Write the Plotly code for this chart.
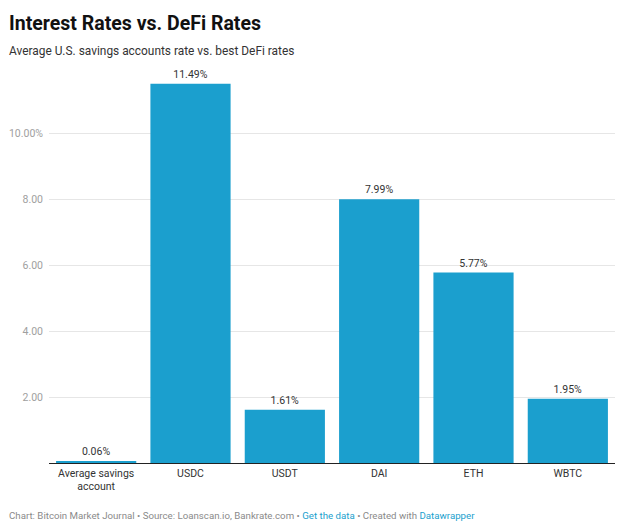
import plotly.graph_objects as go

categories = ["Average savings<br>account", "USDC", "USDT", "DAI", "ETH", "WBTC"]
values = [0.06, 11.49, 1.61, 7.99, 5.77, 1.95]
value_labels = ["0.06%", "11.49%", "1.61%", "7.99%", "5.77%", "1.95%"]
tick_vals = [2, 4, 6, 8, 10]
tick_text = ["2.00", "4.00", "6.00", "8.00", "10.00%"]

# screen geometry (page adds an 8px body margin)
OFF = 8
PL, PR, PT, PB = 49, 615, 67, 463
W, H = 624, 528

def px(x):
    return (x - PL) / (PR - PL)

def py(y):
    return (PB - y) / (PB - PT)

fig = go.Figure(go.Bar(
    x=categories, y=values, text=value_labels, textposition="outside",
    textfont=dict(family="Roboto", size=10.5, color="#333333"),
    marker=dict(color="#1b9fce", line=dict(width=0)),
    cliponaxis=False, hoverinfo="skip",
))

fig.update_layout(
    width=W - OFF, height=H - OFF,
    margin=dict(l=PL - OFF, r=W - PR, t=PT - OFF, b=H - PB),
    paper_bgcolor="white", plot_bgcolor="white",
    bargap=0.15,
    showlegend=False,
    font=dict(family="Roboto", color="#333333"),
    xaxis=dict(showgrid=False, showline=True, linecolor="#222222", linewidth=1,
               automargin=False,
               ticks="", tickfont=dict(size=10.5, color="#333333"), fixedrange=True),
    yaxis=dict(range=[0, 12], tickvals=tick_vals, ticktext=tick_text,
               automargin=False,
               showgrid=True, gridcolor="#e6e6e6", gridwidth=1, zeroline=False,
               showline=False, ticks="", ticklabelstandoff=5,
               tickfont=dict(size=10.5, color="#a0a0a0"), fixedrange=True),
    annotations=[
        dict(text="<b>Interest Rates vs. DeFi Rates</b>", x=px(7), y=py(23.5),
             xref="paper", yref="paper", showarrow=False, xanchor="left", yanchor="middle",
             font=dict(family="Roboto", size=19.5, color="#111111")),
        dict(text="Average U.S. savings accounts rate vs. best DeFi rates", x=px(7), y=py(51),
             xref="paper", yref="paper", showarrow=False, xanchor="left", yanchor="middle",
             font=dict(family="Roboto", size=11.9, color="#333333")),
        dict(text="Chart: Bitcoin Market Journal • Source: Loanscan.io, Bankrate.com • "
                  "<span style='color:#1b9fce'>Get the data</span> • Created with "
                  "<span style='color:#1b9fce'>Datawrapper</span>",
             x=px(7), y=py(515), xref="paper", yref="paper", showarrow=False,
             xanchor="left", yanchor="middle",
             font=dict(family="Roboto", size=9.7, color="#8a8a8a")),
    ],
)

fig.write_html("out.html")
